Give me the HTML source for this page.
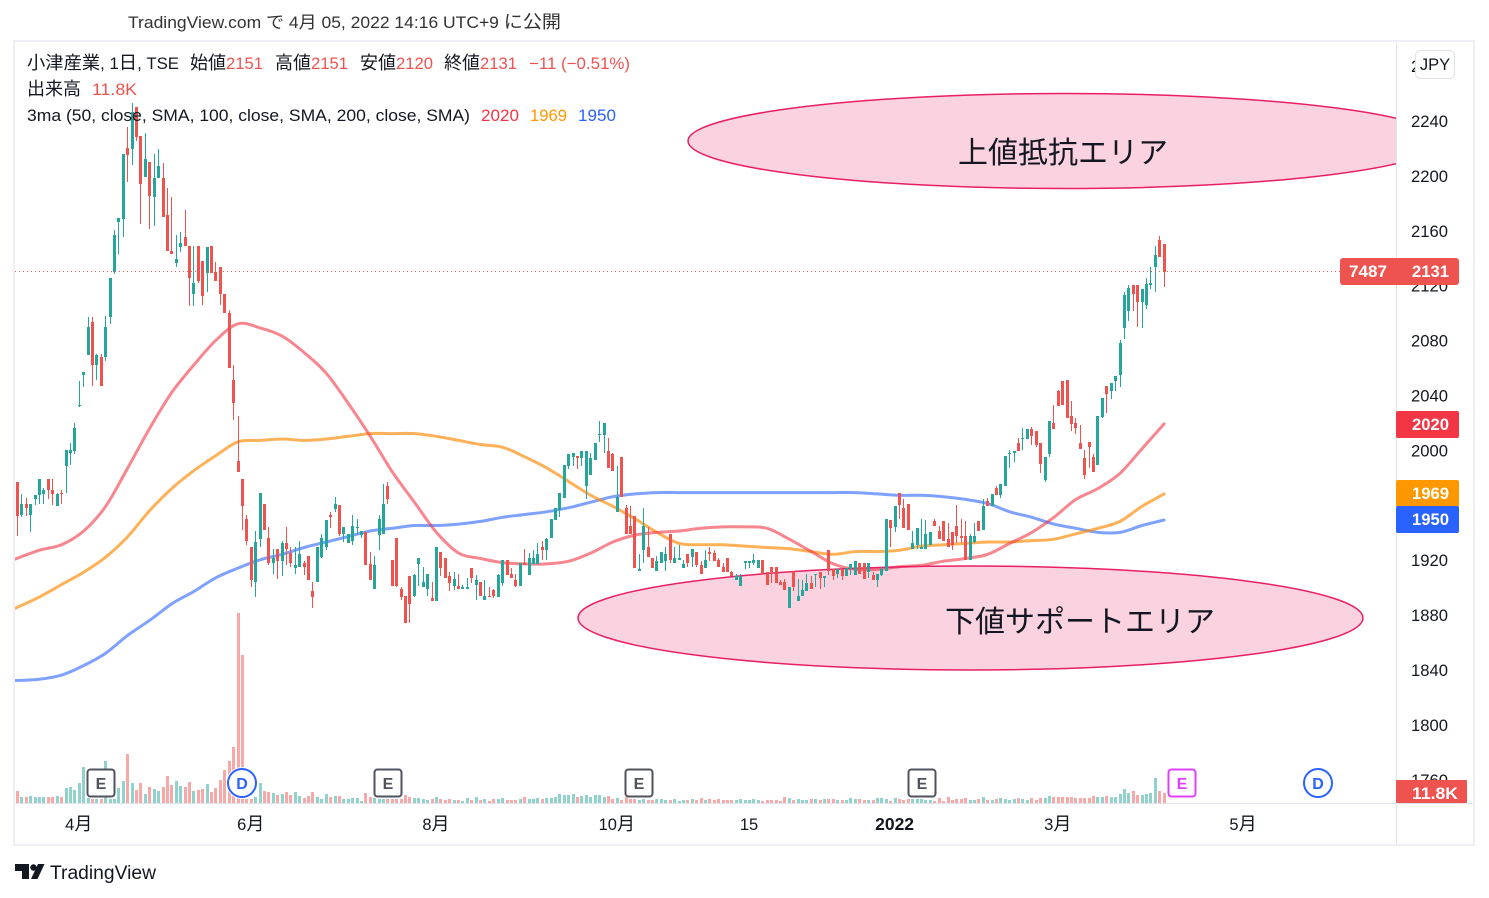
<!DOCTYPE html>
<html lang="ja">
<head>
<meta charset="utf-8">
<title>小津産業 chart</title>
<style>
html,body{margin:0;padding:0;background:#fff;width:1489px;height:898px;overflow:hidden}
svg{display:block}
text{font-family:"Liberation Sans","Noto Sans CJK JP",sans-serif;fill:#131722}
</style>
</head>
<body>
<svg id="chart" xmlns="http://www.w3.org/2000/svg" width="1489" height="898" viewBox="0 0 1489 898">
  <defs>
    <clipPath id="pane-clip"><rect x="15" y="42" width="1381" height="761"/></clipPath>
  </defs>
  <rect x="0" y="0" width="1489" height="898" fill="#ffffff"/>
  <text x="128" y="28" font-size="16.5" style="fill:#333" textLength="433" lengthAdjust="spacingAndGlyphs">TradingView.com <tspan font-size="17">で</tspan> 4<tspan font-size="17">月</tspan> 05, 2022 14:16 UTC+9 <tspan font-size="18">に公開</tspan></text>
  <rect x="14" y="41" width="1460" height="804" fill="none" stroke="#eef0f6" stroke-width="2"/>

  <g id="pane" clip-path="url(#pane-clip)">
    <g id="volume-layer"></g>
    <g id="ma-layer"></g>
    <ellipse cx="1065" cy="141" rx="377" ry="47.5" fill="rgba(233,30,99,0.2)" stroke="#e91e63" stroke-width="1.5"/>
    <ellipse cx="970.5" cy="618" rx="392.5" ry="52" fill="rgba(233,30,99,0.2)" stroke="#e91e63" stroke-width="1.5"/>
    <g id="candle-layer"></g>
    <line id="last-price-line" x1="15" x2="1340" stroke="#ef5350" stroke-width="1" stroke-dasharray="1 3"/>
    <text x="1063" y="163" font-size="30" text-anchor="middle" textLength="210" lengthAdjust="spacing">上値抵抗エリア</text>
    <text x="1080" y="632" font-size="30" text-anchor="middle" textLength="270" lengthAdjust="spacing">下値サポートエリア</text>
    <g id="event-layer"></g>
  </g>

  <g font-size="16.5">
    <text x="27" y="69" textLength="152" lengthAdjust="spacingAndGlyphs"><tspan font-size="18">小津産業</tspan>, 1<tspan font-size="18">日</tspan>, TSE</text>
    <text x="190" y="69" font-size="18">始値</text>
    <text x="226" y="69" style="fill:#ef5350" textLength="37" lengthAdjust="spacingAndGlyphs">2151</text>
    <text x="275" y="69" font-size="18">高値</text>
    <text x="311" y="69" style="fill:#ef5350" textLength="37" lengthAdjust="spacingAndGlyphs">2151</text>
    <text x="360" y="69" font-size="18">安値</text>
    <text x="396" y="69" style="fill:#ef5350" textLength="37" lengthAdjust="spacingAndGlyphs">2120</text>
    <text x="444" y="69" font-size="18">終値</text>
    <text x="480" y="69" style="fill:#ef5350" textLength="37" lengthAdjust="spacingAndGlyphs">2131</text>
    <text x="529" y="69" style="fill:#ef5350" textLength="101" lengthAdjust="spacingAndGlyphs">−11 (−0.51%)</text>
    <text x="27" y="95" font-size="18">出来高</text>
    <text x="92" y="95" style="fill:#ef5350" textLength="45" lengthAdjust="spacingAndGlyphs">11.8K</text>
    <text x="27" y="121" textLength="443" lengthAdjust="spacingAndGlyphs">3ma (50, close, SMA, 100, close, SMA, 200, close, SMA)</text>
    <text x="481" y="121" style="fill:#f23645" textLength="38" lengthAdjust="spacingAndGlyphs">2020</text>
    <text x="530" y="121" style="fill:#ff9800" textLength="37" lengthAdjust="spacingAndGlyphs">1969</text>
    <text x="578" y="121" style="fill:#2962ff" textLength="38" lengthAdjust="spacingAndGlyphs">1950</text>
  </g>

  <rect x="1397" y="42" width="76" height="802" fill="#ffffff"/>
  <line x1="1396.5" y1="42" x2="1396.5" y2="844" stroke="#e0e3eb"/>
  <line x1="15" y1="803.5" x2="1473" y2="803.5" stroke="#e0e3eb"/>
  <g id="price-axis" font-size="16.5"></g>
  <g id="time-axis" font-size="16.5"></g>

  <g>
    <rect x="1415.5" y="50.5" width="39" height="28" rx="5" fill="#ffffff" stroke="#e0e3eb"/>
    <text x="1435" y="70" font-size="16.5" text-anchor="middle">JPY</text>
  </g>

  <g id="tag-layer" font-size="16.5" font-weight="bold"></g>

  <g>
    <path d="M15 864h14v15h-7v-8h-7z" fill="#131722"/>
    <circle cx="33.5" cy="867.5" r="3.2" fill="#131722"/>
    <path d="M38 864h6.5l-7 15h-6.5z" fill="#131722"/>
    <text x="50" y="879" font-size="19" textLength="106" lengthAdjust="spacingAndGlyphs">TradingView</text>
  </g>
</svg>

<script>
const opens = [1978,1954,1962,1954,1965,1968,1969,1980,1972,1960,
1970,1989,1999,2000,2033,2056,2070,2094,2063,2069,
2069,2098,2131,2167,2169,2221,2220,2251,2230,2200,
2211,2185,2199,2199,2172,2146,2137,2149,2156,2150,
2115,2150,2139,2130,2150,2131,2134,2115,2101,2052,
1993,1980,1951,1930,1905,1936,1962,1937,1919,1929,
1920,1933,1926,1915,1916,1919,1924,1898,1905,1923,
1930,1954,1958,1961,1940,1933,1935,1944,1939,1941,
1918,1900,1939,1940,1975,1921,1937,1900,1895,1909,
1895,1918,1901,1900,1893,1891,1927,1922,1909,1902,
1902,1900,1900,1915,1903,1905,1892,1895,1899,1894,
1904,1921,1911,1906,1902,1919,1910,1918,1918,1930,
1928,1937,1950,1957,1966,1989,1996,1997,1995,1975,
1983,1994,2012,2012,2000,1998,1956,1996,1959,1946,
1953,1913,1928,1930,1922,1913,1919,1920,1940,1919,
1921,1915,1925,1923,1927,1917,1915,1927,1926,1921,
1916,1922,1912,1906,1902,1919,1919,1919,1915,1921,
1912,1916,1916,1905,1905,1886,1913,1891,1895,1898,
1904,1910,1912,1908,1928,1914,1911,1914,1909,1914,
1910,1919,1919,1912,1910,1906,1910,1913,1950,1945,
1970,1959,1962,1929,1932,1929,1929,1932,1949,1942,
1949,1936,1941,1946,1938,1938,1921,1934,1949,1943,
1964,1960,1973,1968,1975,1998,1999,2006,2009,2009,
2016,2015,2006,1979,1998,2021,2044,2051,2052,2026,
2021,2006,1995,2007,1996,1990,2025,2048,2044,2051,
2056,2090,2102,2121,2121,2109,2107,2121,2134,2154,2151];

const highs = [1978,1969,1966,1962,1968,1980,1973,1980,1980,1970,
1972,2001,2006,2021,2051,2058,2098,2098,2071,2071,
2099,2126,2161,2170,2217,2236,2254,2251,2230,2232,
2211,2217,2220,2210,2192,2185,2158,2160,2176,2150,
2150,2150,2139,2149,2150,2138,2134,2115,2103,2063,
2026,1980,1954,1930,1942,1970,1962,1945,1929,1929,
1935,1945,1930,1930,1935,1920,1924,1905,1930,1940,
1950,1956,1967,1961,1945,1940,1954,1951,1942,1941,
1927,1924,1954,1976,1978,1921,1937,1901,1895,1909,
1911,1922,1916,1911,1905,1930,1927,1922,1912,1912,
1911,1903,1908,1915,1910,1905,1906,1901,1900,1911,
1921,1921,1915,1911,1919,1929,1926,1928,1933,1935,
1937,1951,1959,1970,1990,1998,1999,1997,2000,2000,
1999,2006,2022,2021,2010,1999,1989,1996,1961,1960,
1953,1925,1959,1945,1922,1924,1927,1930,1940,1930,
1932,1921,1925,1929,1927,1920,1928,1930,1928,1922,
1919,1922,1913,1911,1911,1920,1920,1925,1921,1921,
1912,1916,1916,1906,1907,1901,1913,1907,1906,1911,
1909,1911,1912,1909,1928,1914,1914,1914,1915,1918,
1920,1919,1919,1919,1912,1911,1916,1951,1950,1960,
1970,1965,1962,1942,1944,1951,1950,1941,1951,1946,
1949,1948,1941,1961,1951,1949,1940,1948,1949,1965,
1966,1969,1975,1976,1997,2001,2000,2010,2017,2016,
2018,2015,2006,1996,2022,2034,2045,2051,2052,2037,
2024,2019,2001,2007,1998,2026,2039,2048,2050,2055,
2081,2116,2121,2121,2121,2118,2126,2134,2150,2157,2151];

const lows = [1938,1952,1953,1941,1961,1962,1962,1965,1961,1960,
1962,1970,1990,1998,2032,2047,2070,2048,2052,2048,
2066,2093,2129,2144,2156,2196,2209,2226,2166,2200,
2162,2164,2199,2171,2146,2144,2134,2145,2150,2106,
2106,2123,2107,2116,2130,2124,2107,2101,2061,2023,
1985,1943,1932,1901,1894,1930,1943,1917,1911,1907,
1909,1917,1916,1911,1916,1910,1906,1886,1905,1922,
1928,1944,1956,1938,1934,1933,1932,1940,1937,1917,
1906,1900,1928,1940,1962,1902,1901,1892,1875,1875,
1894,1902,1901,1895,1891,1891,1909,1908,1898,1899,
1900,1900,1900,1904,1892,1895,1892,1894,1893,1894,
1902,1910,1908,1901,1902,1917,1910,1918,1918,1921,
1921,1937,1950,1952,1966,1987,1989,1987,1989,1965,
1983,1994,2007,1999,1988,1986,1956,1967,1940,1940,
1915,1913,1919,1923,1915,1913,1919,1913,1919,1919,
1921,1915,1916,1916,1916,1911,1915,1920,1920,1916,
1912,1912,1909,1906,1902,1914,1915,1917,1915,1911,
1903,1904,1904,1903,1899,1886,1898,1891,1895,1898,
1900,1901,1900,1901,1910,1906,1908,1906,1909,1910,
1910,1911,1907,1908,1906,1901,1909,1913,1930,1941,
1951,1944,1943,1929,1929,1929,1929,1932,1946,1936,
1935,1930,1928,1933,1933,1921,1921,1933,1942,1943,
1960,1960,1968,1966,1975,1988,1992,2000,2001,2009,
2005,2003,1984,1978,1996,2016,2033,2034,2024,2015,
2013,2002,1980,1988,1985,1990,2024,2028,2038,2044,
2047,2082,2095,2102,2091,2090,2104,2118,2116,2142,2120];

const closes = [1953,1962,1959,1962,1968,1980,1972,1972,1969,1969,
1969,2001,2001,2017,2034,2058,2091,2063,2070,2048,
2091,2126,2158,2170,2217,2216,2247,2229,2195,2213,
2186,2199,2208,2171,2146,2144,2140,2152,2150,2126,
2123,2124,2113,2149,2130,2124,2115,2101,2061,2035,
1985,1960,1935,1906,1934,1970,1943,1919,1922,1920,
1933,1929,1919,1917,1925,1916,1906,1894,1930,1937,
1950,1952,1962,1940,1945,1940,1946,1945,1942,1917,
1906,1917,1951,1962,1965,1902,1902,1894,1875,1889,
1910,1922,1905,1911,1891,1930,1915,1908,1904,1907,
1900,1901,1901,1908,1906,1895,1895,1894,1895,1910,
1921,1910,1908,1902,1919,1917,1922,1922,1925,1928,
1936,1951,1959,1970,1990,1998,1999,1995,2000,2000,
1995,2006,2013,2021,1988,1986,1967,1967,1940,1940,
1915,1914,1946,1923,1915,1920,1927,1925,1921,1922,
1922,1918,1919,1929,1917,1911,1921,1925,1920,1916,
1912,1912,1909,1909,1909,1920,1920,1921,1921,1911,
1903,1912,1904,1903,1899,1901,1901,1895,1899,1904,
1900,1911,1908,1909,1913,1909,1914,1909,1915,1918,
1920,1911,1907,1919,1906,1911,1914,1951,1944,1960,
1961,1944,1943,1933,1944,1930,1940,1941,1946,1936,
1935,1930,1932,1938,1937,1921,1938,1938,1942,1960,
1960,1969,1968,1976,1997,1999,2000,2000,2010,2016,
2011,2005,1991,1996,2022,2016,2033,2034,2024,2020,
2017,2002,1983,2003,1985,2026,2039,2042,2050,2055,
2079,2114,2119,2115,2109,2118,2122,2123,2143,2142,2131];

const volumesK = [13.7,6.8,6.8,8,6.8,6.8,6.8,6.8,6.8,8,
6.8,17.1,18.2,14.8,22.8,41,5.7,4.6,4.6,4.6,
47.9,4.6,4.6,17.1,25.1,55.9,22.8,14.8,22.8,10.3,
18.2,16,13.7,18.2,30.8,20.5,25.1,19.4,18.2,23.9,
13.7,14.8,16,21.7,12.5,17.1,26.2,37.6,47.9,63.8,
216.6,168.7,4.6,4.6,6.8,22.8,13.7,12.5,11.4,9.1,
10.3,12.5,9.1,12.5,8,5.7,8,12.5,6.8,4.6,
10.3,6.8,8,8,4.6,4.6,5.7,5.7,2.3,11.4,
6.8,5.7,4.6,4.6,4.6,4.6,4.6,4.6,9.1,6.8,
5.7,
5.7,4.9,3.4,4.2,7.2,4.6,3.8,4.9,3.8,3.4,
2.3,6.1,3.4,7.2,3,4.9,2.3,4.6,4.6,6.1,
3.8,3.8,3.8,4.9,7.2,4.9,4.6,6.1,4.6,6.1,
6.1,7.2,10.6,8.7,9.5,10.6,7.2,8.4,9.5,7.2,
9.5,9.5,7.2,8.4,4.6,6.1,3.8,7.2,4.6,4.6,
3.8,4.6,3.8,3.4,4.6,4.6,3.8,3.8,4.9,2.7,
3.8,3.8,4.9,3.4,6.1,3.8,4.6,3,4.6,3.8,
3.8,3.8,3.4,4.6,3.4,3.8,4.9,3.8,2.7,3.8,
3.8,3.8,2.7,7.2,6.1,3.8,4.9,3.8,3.4,4.9,
4.9,3.8,4.2,4.9,4.9,3.8,3.8,3.8,6.1,4.9,
4.9,3.8,3.8,3.8,6.1,6.1,4.6,2.7,6.1,4.9,
3.8,4.9,4.9,4.6,4.6,3.8,3.8,2.7,6.1,2.7,
7.2,3.4,4.6,4.6,6.1,3.8,3.8,4.6,7.2,3.8,
3.8,4.9,6.1,4.9,3.8,4.9,6.1,4.9,3.8,6.1,
3.8,6.1,6.1,8.4,7.2,7.2,7.2,7.2,7.2,6.1,
6.1,6.1,6.1,8.4,7.2,7.2,8.4,7.2,7.2,10.6,
16.3,11.8,14.1,9.5,9.5,10.6,11.8,28.9,14.1,11.8];

const maBars = [-1,5,10,15,20,25,30,35,40,45,50,55,60,65,70,75,80,85,90,95,
100,105,110,115,120,125,130,135,140,145,150,155,160,165,170,175,180,185,190,195,
200,205,210,215,220,225,230,235,240,245,250,255,260];

const ma50 = [1921,1928,1932,1942,1960,1988,2017,2043,2063,2081,2093,2090,2084,2072,2057,2035,2011,1985,1963,1941,
1926,1922,1919,1918,1918,1920,1926,1934,1939,1941,1942,1944,1945,1945,1944,1936,1927,1918,1914,1914,
1916,1917,1920,1922,1925,1933,1941,1952,1965,1973,1984,2002,2020];

const ma100 = [1885,1894,1903,1912,1923,1938,1957,1973,1986,1997,2007,2008,2009,2008,2009,2011,2013,2013,2013,2011,
2008,2005,2003,1996,1988,1978,1968,1960,1951,1941,1933,1932,1932,1931,1930,1929,1927,1925,1927,1927,
1928,1931,1932,1933,1934,1934,1935,1936,1940,1944,1949,1960,1969];

const ma200 = [1833,1834,1837,1844,1853,1866,1877,1889,1898,1908,1915,1921,1925,1930,1934,1938,1942,1944,1946,1946,
1947,1949,1952,1954,1956,1959,1963,1967,1969,1970,1970,1970,1970,1970,1970,1970,1970,1970,1970,1969,
1968,1968,1967,1965,1962,1956,1952,1947,1944,1941,1941,1946,1950];

const priceTicks = [2280,2240,2200,2160,2120,2080,2040,2000,1960,1920,1880,1840,1800,1760];
const timeTickBars = [14,53,95,136,166,199,236,278];
const timeTickLabels = ['4月','6月','8月','10月','15','2022','3月','5月'];
const eventBars = [19,51,84,141,205,264,295];
const eventTypes = ['E','D','E','E','E','E','D'];
const eventKinds = ['past','dividend','past','past','past','upcoming','dividend'];
const lastVolumeLabel = '11.8K';

const SVG_NS = 'http://www.w3.org/2000/svg';
function xScale(i){ return 17.5 + 4.41 * i; }
function yScale(p){ return 122 + (2240 - p) * 1.3725; }
function volScale(v){ return 803 - v * 0.877; }
function make(tag, parent){
  const el = document.createElementNS(SVG_NS, tag);
  parent.appendChild(el);
  return el;
}

/* volume */
const volumeLayer = document.getElementById('volume-layer');
volumesK.forEach(function(v, i){
  const px = Math.floor(xScale(i));
  const top = Math.round(volScale(v));
  const bar = make('rect', volumeLayer);
  
  
  bar.setAttribute('x', px - 1);
  bar.setAttribute('y', top);
  bar.setAttribute('width', 3);
  bar.setAttribute('height', Math.max(1, 803 - top));
  bar.setAttribute('fill', closes[i] < opens[i] ? 'rgba(239,83,80,0.5)' : 'rgba(38,166,154,0.5)');
});

/* moving averages */
const maLayer = document.getElementById('ma-layer');
function smoothPath(values){
  const pts = values.map(function(v, k){
    return [xScale(maBars[k]), yScale(v)];
  });
  let d = 'M' + pts[0][0].toFixed(1) + ' ' + pts[0][1].toFixed(1);
  for (let k = 0; k < pts.length - 1; k++) {
    const p0 = pts[Math.max(0, k - 1)];
    const p1 = pts[k];
    const p2 = pts[k + 1];
    const p3 = pts[Math.min(pts.length - 1, k + 2)];
    const c1x = p1[0] + (p2[0] - p0[0]) / 6;
    const c1y = p1[1] + (p2[1] - p0[1]) / 6;
    const c2x = p2[0] - (p3[0] - p1[0]) / 6;
    const c2y = p2[1] - (p3[1] - p1[1]) / 6;
    d += 'C' + c1x.toFixed(1) + ' ' + c1y.toFixed(1) + ' ' + c2x.toFixed(1) + ' ' + c2y.toFixed(1) + ' ' + p2[0].toFixed(1) + ' ' + p2[1].toFixed(1);
  }
  return d;
}
function drawMa(values, colour, name){
  const line = make('path', maLayer);
  
  
  line.setAttribute('d', smoothPath(values));
  line.setAttribute('fill', 'none');
  line.setAttribute('stroke', colour);
  line.setAttribute('stroke-width', '3');
  line.setAttribute('stroke-linejoin', 'round');
  line.setAttribute('stroke-linecap', 'round');
}
drawMa(ma200, 'rgba(41,98,255,0.6)', 'ma200-line');
drawMa(ma100, 'rgba(255,135,0,0.65)', 'ma100-line');
drawMa(ma50, 'rgba(242,54,69,0.6)', 'ma50-line');

/* candles */
const candleLayer = document.getElementById('candle-layer');
opens.forEach(function(o, i){
  const c = closes[i];
  const colour = c < o ? '#ef5350' : '#26a69a';
  const px = Math.floor(xScale(i));
  const wickTop = Math.round(yScale(highs[i]));
  const wickBottom = Math.round(yScale(lows[i]));
  const bodyTop = Math.round(yScale(Math.max(o, c)));
  const bodyBottom = Math.round(yScale(Math.min(o, c)));
  const wick = make('rect', candleLayer);
  
  
  wick.setAttribute('x', px);
  wick.setAttribute('y', wickTop);
  wick.setAttribute('width', 1);
  wick.setAttribute('height', Math.max(1, wickBottom - wickTop));
  wick.setAttribute('fill', colour);
  const body = make('rect', candleLayer);
  
  
  body.setAttribute('x', px - 1);
  body.setAttribute('y', bodyTop);
  body.setAttribute('width', 3);
  body.setAttribute('height', Math.max(1, bodyBottom - bodyTop));
  body.setAttribute('fill', colour);
});

/* last price line */
const lastClose = closes[closes.length - 1];
const lastLine = document.getElementById('last-price-line');
lastLine.setAttribute('y1', Math.floor(yScale(lastClose)) + 0.5);
lastLine.setAttribute('y2', Math.floor(yScale(lastClose)) + 0.5);

/* price axis */
const priceAxis = document.getElementById('price-axis');
priceTicks.forEach(function(t){
  const label = make('text', priceAxis);
  
  
  label.setAttribute('x', 1411);
  label.setAttribute('y', yScale(t) + 5);
  label.setAttribute('textLength', 37);
  label.setAttribute('lengthAdjust', 'spacingAndGlyphs');
  label.textContent = String(t);
});

/* time axis */
const timeAxis = document.getElementById('time-axis');
timeTickBars.forEach(function(b, k){
  const raw = timeTickLabels[k];
  const label = make('text', timeAxis);
  
  
  label.setAttribute('x', xScale(b) - 0.5);
  label.setAttribute('y', 830);
  label.setAttribute('text-anchor', 'middle');
  if (raw === '2022') {
    label.setAttribute('font-weight', 'bold');
    label.setAttribute('font-size', '17.5');
    label.textContent = raw;
  } else if (raw.indexOf('月') >= 0) {
    label.appendChild(document.createTextNode(raw.replace('月', '')));
    const suffix = make('tspan', label);
    suffix.setAttribute('font-size', '18');
    suffix.textContent = '月';
  } else {
    label.textContent = raw;
  }
});

/* event markers */
const eventLayer = document.getElementById('event-layer');
eventBars.forEach(function(b, k){
  const cx = Math.round(xScale(b));
  const cy = 783;
  const kind = eventKinds[k];
  const colour = kind === 'dividend' ? '#2962ff' : (kind === 'upcoming' ? '#e040fb' : '#50535e');
  if (eventTypes[k] === 'D') {
    const halo = make('circle', eventLayer);
    
    
    halo.setAttribute('cx', cx);
    halo.setAttribute('cy', cy);
    halo.setAttribute('r', 16);
    halo.setAttribute('fill', '#ffffff');
    const ring = make('circle', eventLayer);
    
    
    ring.setAttribute('cx', cx);
    ring.setAttribute('cy', cy);
    ring.setAttribute('r', 14);
    ring.setAttribute('fill', '#ffffff');
    ring.setAttribute('stroke', colour);
    ring.setAttribute('stroke-width', 2);
  } else {
    const box = make('rect', eventLayer);
    
    
    box.setAttribute('x', cx - 13.5);
    box.setAttribute('y', cy - 13.5);
    box.setAttribute('width', 27);
    box.setAttribute('height', 27);
    box.setAttribute('rx', 3);
    box.setAttribute('fill', '#ffffff');
    box.setAttribute('stroke', colour);
    box.setAttribute('stroke-width', 2);
  }
  const letter = make('text', eventLayer);
  
  
  letter.setAttribute('x', cx);
  letter.setAttribute('y', cy + 6);
  letter.setAttribute('text-anchor', 'middle');
  letter.setAttribute('font-size', 16);
  letter.setAttribute('font-weight', 'bold');
  letter.style.fill = colour;
  letter.textContent = eventTypes[k];
});

/* price tags */
const tagLayer = document.getElementById('tag-layer');
function addTag(name, value, colour, nudge){
  const cy = Math.round(yScale(value)) + nudge;
  const box = make('rect', tagLayer);
  
  
  box.setAttribute('x', 1396);
  box.setAttribute('y', cy - 13);
  box.setAttribute('width', 63);
  box.setAttribute('height', 27);
  box.setAttribute('rx', 2);
  box.setAttribute('fill', colour);
  const label = make('text', tagLayer);
  
  
  label.setAttribute('x', 1412);
  label.setAttribute('y', cy + 6);
  label.setAttribute('textLength', 37);
  label.setAttribute('lengthAdjust', 'spacingAndGlyphs');
  label.style.fill = '#ffffff';
  label.textContent = String(value);
}
addTag('ma50-price-tag', ma50[ma50.length - 1], '#f23645', 0);
addTag('ma100-price-tag', ma100[ma100.length - 1], '#ff9800', -1);
addTag('ma200-price-tag', ma200[ma200.length - 1], '#2962ff', -1);

const lastCy = Math.round(yScale(lastClose));
const lastBox = make('rect', tagLayer);


lastBox.setAttribute('x', 1340);
lastBox.setAttribute('y', lastCy - 14);
lastBox.setAttribute('width', 119);
lastBox.setAttribute('height', 27);
lastBox.setAttribute('rx', 3);
lastBox.setAttribute('fill', '#ef5350');
const symbolLabel = make('text', tagLayer);


symbolLabel.setAttribute('x', 1349);
symbolLabel.setAttribute('y', lastCy + 5);
symbolLabel.setAttribute('textLength', 38);
symbolLabel.setAttribute('lengthAdjust', 'spacingAndGlyphs');
symbolLabel.style.fill = '#ffffff';
symbolLabel.textContent = '7487';
const priceLabel = make('text', tagLayer);


priceLabel.setAttribute('x', 1412);
priceLabel.setAttribute('y', lastCy + 5);
priceLabel.setAttribute('textLength', 37);
priceLabel.setAttribute('lengthAdjust', 'spacingAndGlyphs');
priceLabel.style.fill = '#ffffff';
priceLabel.textContent = String(lastClose);

const volBox = make('rect', tagLayer);


volBox.setAttribute('x', 1396);
volBox.setAttribute('y', 780);
volBox.setAttribute('width', 71);
volBox.setAttribute('height', 23);
volBox.setAttribute('rx', 1);
volBox.setAttribute('fill', '#ef5350');
const volLabel = make('text', tagLayer);


volLabel.setAttribute('x', 1412);
volLabel.setAttribute('y', 799);
volLabel.setAttribute('textLength', 46);
volLabel.setAttribute('lengthAdjust', 'spacingAndGlyphs');
volLabel.style.fill = '#ffffff';
volLabel.textContent = lastVolumeLabel;
</script>
</body>
</html>
